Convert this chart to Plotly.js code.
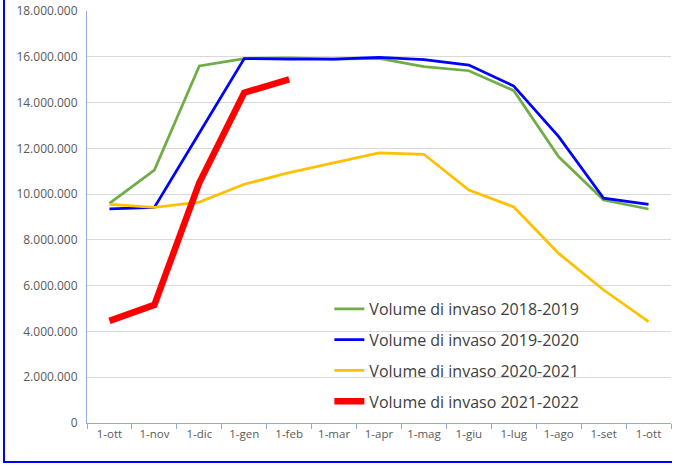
<!DOCTYPE html>
<html>
<head>
<meta charset="utf-8">
<script src="https://cdn.plot.ly/plotly-3.0.1.min.js"></script>
<style>
html,body{margin:0;padding:0;background:#fff;}
#wrap{position:relative;width:675px;height:469px;overflow:hidden;}
#chart{position:absolute;left:0;top:0;width:675px;height:469px;}
#frame{position:absolute;left:3px;top:-3px;width:667px;height:464px;border-left:2px solid #0000ff;border-bottom:2px solid #0000ff;pointer-events:none;}
</style>
</head>
<body>
<div id="wrap"><div id="chart"></div><div id="frame"></div></div>
<script>
const months = ["1-ott","1-nov","1-dic","1-gen","1-feb","1-mar","1-apr","1-mag","1-giu","1-lug","1-ago","1-set","1-ott"];
const s2018 = [9600000,11050000,15600000,15920000,15950000,15900000,15930000,15570000,15390000,14520000,11630000,9740000,9350000];
const s2019 = [9350000,9420000,12670000,15920000,15900000,15900000,15970000,15880000,15640000,14720000,12510000,9820000,9550000];
const s2020 = [9550000,9420000,9650000,10430000,10940000,11360000,11800000,11740000,10180000,9440000,7410000,5810000,4430000];
const s2021 = [4460000,5160000,10500000,14430000,15010000];
const names = ["Volume di invaso 2018-2019","Volume di invaso 2019-2020","Volume di invaso 2020-2021","Volume di invaso 2021-2022"];
const yTicks = [0,2000000,4000000,6000000,8000000,10000000,12000000,14000000,16000000,18000000];

const idx = months.map((m,i)=>i);
const series = [s2018,s2019,s2020,s2021];
const colors = ["#70ad47","#0000ff","#ffc000","#ff0000"];
const widths = [2.75,2.75,2.75,6.5];

const traces = series.map((s,k)=>({
  x: idx.slice(0,s.length), y: s, type:'scatter', mode:'lines', name:names[k],
  legendgroup:'g'+k,
  line:{color:colors[k], width:widths[k]}
}));

const layout = {
  width:675, height:469,
  margin:{l:87,r:4,t:11,b:46},
  paper_bgcolor:'#fff', plot_bgcolor:'#fff',
  separators:',.',
  font:{family:'"Open Sans", "Liberation Sans", sans-serif', color:'#595959', size:11},
  showlegend:true,
  legend:{x:0.415, y:0.318, xanchor:'left', yanchor:'top', bgcolor:'rgba(0,0,0,0)',
    font:{size:16, color:'#404040', weight:500}, traceorder:'grouped', tracegroupgap:7, itemwidth:30},
  xaxis:{
    range:[-0.5,12.5], tickmode:'array', tickvals:idx, ticktext:months,
    ticks:'', showgrid:false, zeroline:false, showline:true, linecolor:'#8faadc', linewidth:1,
    tickfont:{size:11.5,color:'#595959'},
    minor:{tickmode:'array', tickvals:idx.concat([12]).map(i=>i-0.5).concat([12.5]), ticks:'outside', ticklen:5, tickcolor:'#8faadc', showgrid:false}
  },
  yaxis:{
    range:[0,18000000], tickmode:'array', tickvals:yTicks, tickformat:',d',
    showgrid:true, gridcolor:'#d9d9d9', gridwidth:1, zeroline:false,
    showline:true, linecolor:'#8faadc', linewidth:1, ticks:'', ticklabelstandoff:6,
    tickfont:{size:12,color:'#595959'}
  }
};
Plotly.newPlot('chart', traces, layout, {displayModeBar:false, staticPlot:true});
</script>
</body>
</html>
